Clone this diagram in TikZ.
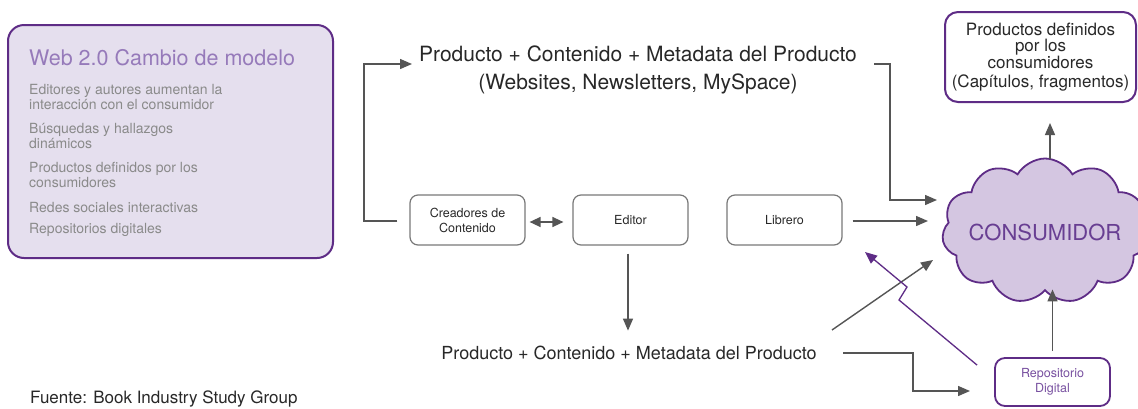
\documentclass[tikz,border=0pt]{standalone}
\usepackage{fontspec}
\setmainfont{TeX Gyre Heros}
\usetikzlibrary{arrows.meta,shapes.symbols}
\definecolor{purp}{RGB}{94,44,134}
\definecolor{lav}{RGB}{229,223,238}
\definecolor{cloudfill}{RGB}{212,198,225}
\definecolor{titlep}{RGB}{150,122,186}
\definecolor{greytext}{RGB}{138,138,138}
\definecolor{agray}{RGB}{85,85,85}
\definecolor{boxgray}{RGB}{120,120,120}
\definecolor{repotext}{RGB}{120,80,160}
\definecolor{constext}{RGB}{104,62,146}
\definecolor{darktext}{RGB}{40,40,40}
\begin{document}
\begin{tikzpicture}[x=1pt,y=-1pt,
  arr/.style={draw=agray, line width=1.4pt, -{Triangle[length=12pt,width=10pt]}},
  arrboth/.style={draw=agray, line width=1.4pt, {Triangle[length=11pt,width=10pt]}-{Triangle[length=11pt,width=10pt]}},
  arrp/.style={draw=purp, line width=1.3pt, -{Triangle[length=12pt,width=10pt]}},
  gbox/.style={draw=boxgray, line width=1.2pt, rounded corners=8pt, minimum width=115pt, minimum height=50pt, inner sep=0pt, align=center, font=\fontsize{12.5}{15}\selectfont, text=darktext},
  pbox/.style={draw=purp, line width=2pt, fill=white, inner sep=0pt, align=center},
  bodyline/.style={anchor=base west, font=\fontsize{14}{16}\selectfont, text=greytext, inner sep=0pt},
  biglabel/.style={anchor=base, inner sep=0pt, text=darktext},
]
\useasboundingbox (0,0) rectangle (1138,408);
\clip (0,0) rectangle (1138,408);
\fill[white] (0,0) rectangle (1138,408);

% left panel
\node[draw=purp, line width=2pt, fill=lav, rounded corners=16pt, minimum width=325pt, minimum height=233pt, inner sep=0pt] (web) at (170.5,141.5) {};
\node[anchor=base west, inner sep=0pt, font=\fontsize{21.5}{24}\selectfont, text=titlep] (webtitle) at (29,65) {Web 2.0 Cambio de modelo};
\node[bodyline] (w1) at (29,94) {Editores y autores aumentan la};
\node[bodyline] (w2) at (29,109) {interacción con el consumidor};
\node[bodyline] (w3) at (29,133) {Búsquedas y hallazgos};
\node[bodyline] (w4) at (29,148) {dinámicos};
\node[bodyline] (w5) at (29,172) {Productos definidos por los};
\node[bodyline] (w6) at (29,187) {consumidores};
\node[bodyline] (w7) at (29,212) {Redes sociales interactivas};
\node[bodyline] (w8) at (29,233) {Repositorios digitales};

% top label
\node[biglabel, font=\fontsize{21}{24}\selectfont] (tl1) at (638,61) {Producto + Contenido + Metadata del Producto};
\node[biglabel, font=\fontsize{21}{24}\selectfont] (tl2) at (638,89) {(Websites, Newsletters, MySpace)};

% middle boxes
\node[gbox] (cre) at (467.5,220) {Creadores de\\Contenido};
\node[gbox] (edi) at (630.5,220) {Editor};
\node[gbox] (lib) at (784.5,220) {Librero};

% bottom label
\node[biglabel, font=\fontsize{18}{21}\selectfont] (bl) at (629,359) {Producto + Contenido + Metadata del Producto};

% cloud
\node[cloud, cloud puffs=11, cloud puff arc=120, aspect=1.45, draw=purp, line width=1.8pt, fill=cloudfill, minimum width=206pt, minimum height=145pt, inner sep=0pt] (cloud) at (1045,231) {};
\node[font=\fontsize{22}{24}\selectfont, text=constext, inner sep=0pt] (constxt) at (1045,232) {CONSUMIDOR};

% top right box
\node[pbox, rounded corners=13pt, minimum width=191pt, minimum height=90pt, font=\fontsize{17}{16}\selectfont, text=darktext] (prod) at (1040.5,57) {Productos definidos\\por los\\consumidores\\[2.5pt](Capítulos, fragmentos)};

% repository box
\node[pbox, rounded corners=10pt, line width=1.8pt, minimum width=115pt, minimum height=48pt, font=\fontsize{12.5}{15}\selectfont, text=repotext] (repo) at (1052.5,382) {Repositorio\\Digital};

% coordinates for free bends / ends
\coordinate (loopx) at (364,0);
\coordinate (tlin) at (412,64);
\coordinate (tlout) at (874,64);
\coordinate (rdown) at (890,0);
\coordinate (c1) at (937,200);
\coordinate (c2) at (928,221);
\coordinate (blout) at (843,353);
\coordinate (bturn) at (913,0);
\coordinate (repoin) at (970,391);
\coordinate (d1) at (832,330);
\coordinate (d2) at (933,260);
\coordinate (p1) at (899,300);
\coordinate (p2) at (907,287);
\coordinate (p3) at (865,252);

% connectors
\draw[arr] ([xshift=-12pt,yshift=-1pt]cre.west) -- ([yshift=-1pt]cre.west -| loopx) |- (tlin);
\draw[arr] (tlout) -- (tlout -| rdown) |- (c1);
\draw[arr] ([xshift=10pt,yshift=-1pt]lib.east) -- (c2);
\draw[arrboth] ([xshift=4pt,yshift=-2pt]cre.east) -- ([xshift=-9pt,yshift=-2pt]edi.west);
\draw[arr] ([xshift=-2.5pt,yshift=-8pt]edi.south) -- ([xshift=-2.5pt,yshift=-85pt]edi.south);
\draw[arr] (blout) -- (blout -| bturn) |- (repoin);
\draw[arr] (d1) -- (d2);
\draw[arrp] ([xshift=-17pt,yshift=-8pt]repo.north west) -- (p1) -- (p2) -- (p3);
\draw[arr] ([yshift=6pt]repo.north) -- ([yshift=2pt]repo.north |- cloud.south);
\draw[arr] ([xshift=5pt,yshift=-1pt]cloud.north) -- ([xshift=9.5pt,yshift=-20pt]prod.south);

% source
\node[anchor=base west, inner sep=0pt, font=\fontsize{17}{19}\selectfont, text=darktext] (src) at (30,403) {Fuente: Book Industry Study Group};
\end{tikzpicture}
\end{document}
